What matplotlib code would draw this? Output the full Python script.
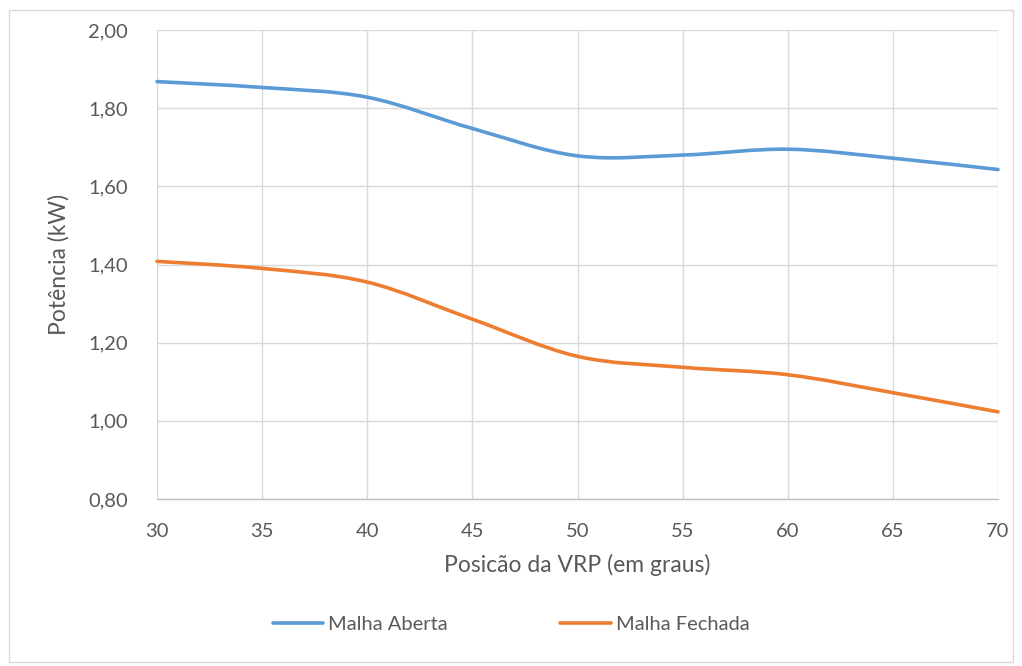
import matplotlib
matplotlib.use("Agg")
import matplotlib.pyplot as plt
from matplotlib.path import Path
from matplotlib.patches import PathPatch, Rectangle
from matplotlib.lines import Line2D
from matplotlib.ticker import FuncFormatter
import numpy as np

# Data
posicao = [30, 35, 40, 45, 50, 55, 60, 65, 70]
malha_aberta = [1.868, 1.853, 1.828, 1.748, 1.678, 1.68, 1.695, 1.672, 1.643]
malha_fechada = [1.408, 1.39, 1.355, 1.26, 1.165, 1.137, 1.118, 1.072, 1.023]
series_names = ["Malha Aberta", "Malha Fechada"]
colors = ["#5B9BD5", "#ED7D31"]
x_label = "Posicão da VRP (em graus)"
y_label = "Potência (kW)"

plt.rcParams['font.family'] = ['Lato', 'DejaVu Sans']
TXT = "#595959"

W, H = 1022, 666
fig = plt.figure(figsize=(W / 100, H / 100), dpi=100)
fig.patch.set_facecolor("white")
fig.patches.append(Rectangle((9 / W, 1 - 662 / H), (1013 - 9) / W, (662 - 10) / H,
                             transform=fig.transFigure, fill=False,
                             edgecolor="#D9D9D9", linewidth=1.0))

ax = fig.add_axes([157 / W, 1 - 499 / H, (998 - 157) / W, (499 - 30) / H])
ax.set_xlim(30, 70)
ax.set_ylim(0.80, 2.00)
ax.set_xticks(np.arange(30, 71, 5))
ax.set_yticks(np.arange(0.80, 2.001, 0.20))
ax.yaxis.set_major_formatter(FuncFormatter(lambda v, p: f"{v:.2f}".replace(".", ",")))
ax.grid(True, color="#D9D9D9", linewidth=1.0)
ax.set_axisbelow(True)
for s in ["top", "right", "left"]:
    ax.spines[s].set_visible(False)
ax.spines["bottom"].set_color("#BFBFBF")
ax.spines["bottom"].set_linewidth(1.0)
ax.tick_params(axis="both", length=0, labelsize=14.5, colors=TXT)
ax.tick_params(axis="x", pad=17)
ax.tick_params(axis="y", pad=21)


def smooth_path(xs, ys):
    pts = np.column_stack([xs, ys]).astype(float)
    n = len(pts)
    verts = [pts[0]]
    codes = [Path.MOVETO]
    for i in range(n - 1):
        p0 = pts[i - 1] if i > 0 else pts[i]
        p1 = pts[i]
        p2 = pts[i + 1]
        p3 = pts[i + 2] if i + 2 < n else pts[i + 1]
        c1 = p1 + (p2 - p0) / 6.0
        c2 = p2 - (p3 - p1) / 6.0
        verts += [c1, c2, p2]
        codes += [Path.CURVE4] * 3
    return Path(verts, codes)


handles = []
for ys, c, name in zip([malha_aberta, malha_fechada], colors, series_names):
    patch = PathPatch(smooth_path(posicao, ys), fill=False, edgecolor=c,
                      linewidth=2.6, capstyle="round", joinstyle="round", zorder=3)
    patch.set_clip_on(False)
    ax.add_patch(patch)
    handles.append(Line2D([], [], color=c, linewidth=2.6, solid_capstyle="round"))

ax.set_xlabel(x_label, fontsize=16.5, color=TXT, labelpad=10)
ax.set_ylabel(y_label, fontsize=16.5, color=TXT, labelpad=13)

leg = fig.legend(handles, series_names, loc="center", bbox_to_anchor=(0.5, 1 - 624 / H),
                 ncol=2, frameon=False, fontsize=14.5, handlelength=2.5,
                 columnspacing=5.6, handletextpad=0.25)
for t in leg.get_texts():
    t.set_color(TXT)

fig.savefig("out.png", dpi=100, facecolor="white")
